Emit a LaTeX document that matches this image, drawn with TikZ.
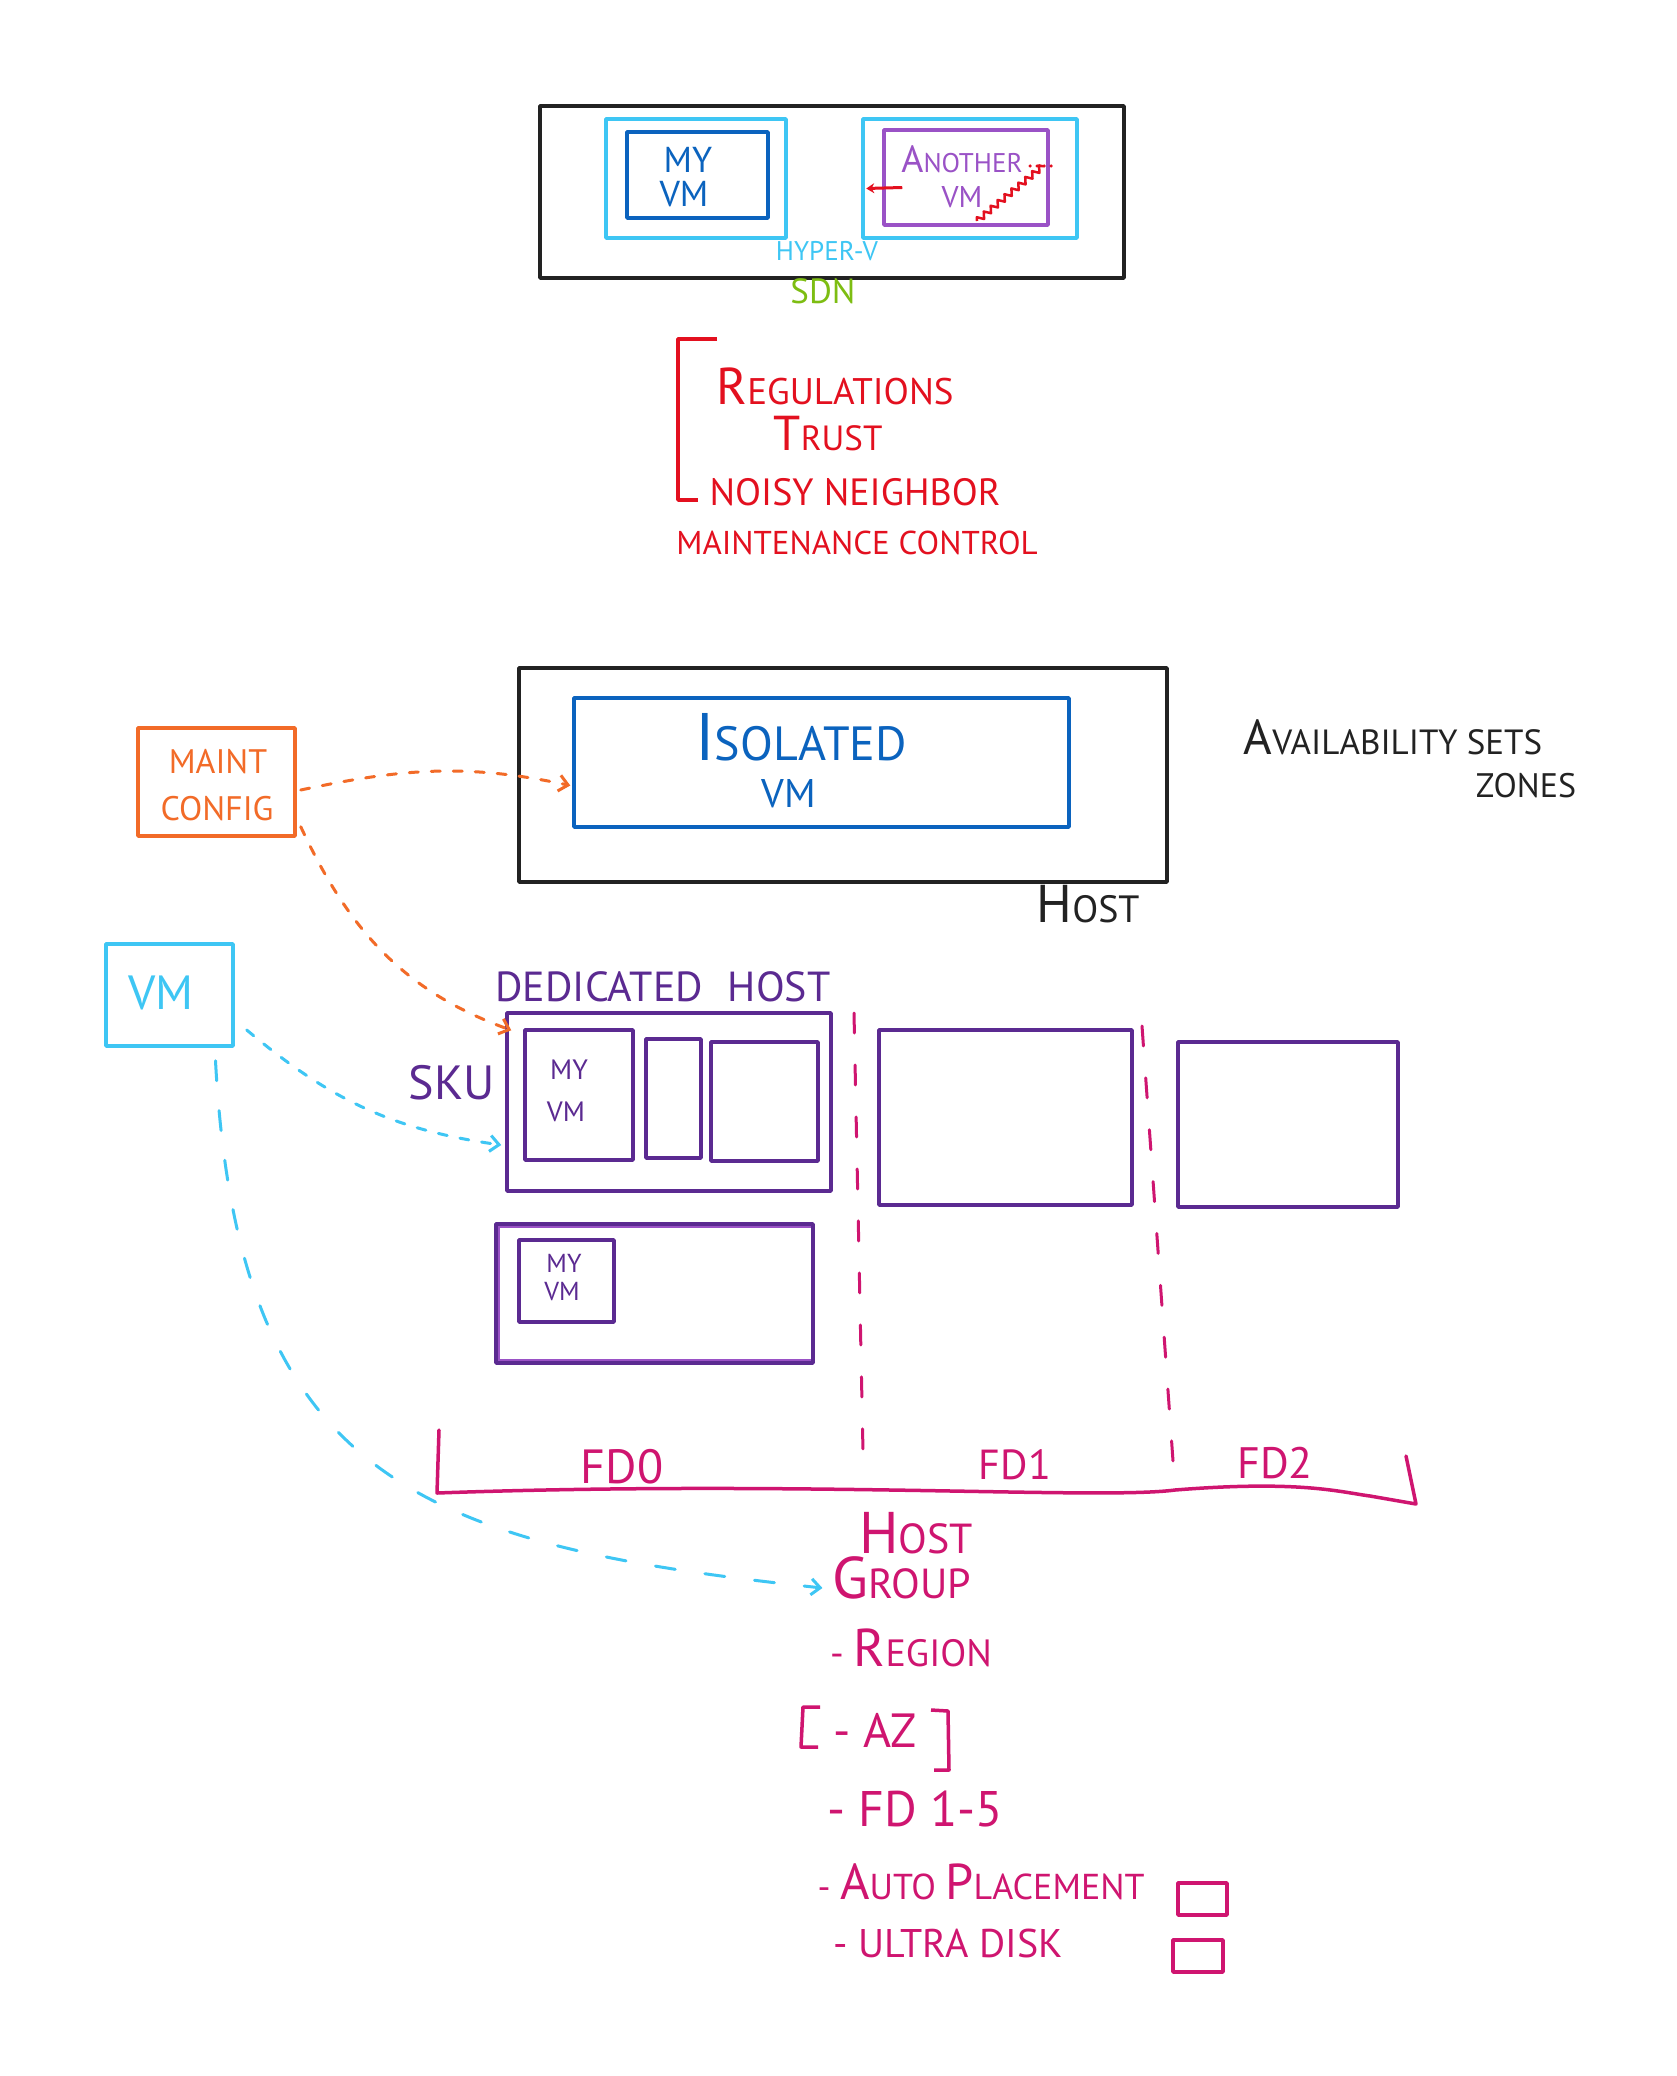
\documentclass[tikz,border=0pt]{standalone}
\usepackage{fontspec}
\usepackage{graphicx}
\setmainfont{PT Sans}
\usetikzlibrary{arrows.meta,decorations.pathmorphing}
\definecolor{ink}{HTML}{222222}
\definecolor{hvblue}{HTML}{3EC6F4}
\definecolor{vmblue}{HTML}{0B63BE}
\definecolor{anpurple}{HTML}{9A52C6}
\definecolor{dhpurple}{HTML}{5B2A91}
\definecolor{noisered}{HTML}{E3101F}
\definecolor{sdngreen}{HTML}{7DBD12}
\definecolor{maintorange}{HTML}{F26B28}
\definecolor{fdmagenta}{HTML}{CF1570}
\newcommand\fs[1]{\fontsize{#1}{#1}\selectfont}
\newcommand\ini[1]{\scalebox{1.4}{#1}}
\tikzset{
  box/.style={draw, rectangle, inner sep=0pt, line width=3.5pt, line join=round},
  txt/.style={inner sep=0pt, anchor=center},
  oarrow/.style={draw=maintorange, line width=3pt, line cap=round, dash pattern=on 9pt off 13pt, -{Straight Barb[length=9pt,width=16pt,line width=3pt]}},
  barrow/.style={draw=hvblue, line width=3pt, line cap=round, dash pattern=on 9pt off 13pt, -{Straight Barb[length=9pt,width=16pt,line width=3pt]}},
  fdline/.style={draw=fdmagenta, line width=3pt, line cap=round, dash pattern=on 20pt off 32pt},
}
\begin{document}
\begin{tikzpicture}[x=1pt,y=-1pt]
\useasboundingbox (0,0) rectangle (1677,2076);
\fill[white] (0,0) rectangle (1677,2076);

% ---------- top: SDN / Hyper-V ----------
\node[box, draw=ink, minimum width=584pt, minimum height=172pt] (sdnbox) at (832,192) {};
\node[box, draw=hvblue, minimum width=180pt, minimum height=119pt] (hv1) at (696,178.5) {};
\node[box, draw=vmblue, minimum width=141pt, minimum height=86pt] (myvm1) at (697.5,175) {};
\node[box, draw=hvblue, minimum width=214pt, minimum height=119pt] (hv2) at (970,178.5) {};
\node[box, draw=anpurple, minimum width=164pt, minimum height=95pt] (another) at (966,177.5) {};
\node[txt, text=vmblue, font=\fs{36}] (my1) at (688,160) {MY};
\node[txt, text=vmblue, font=\fs{36}] (vm1) at (684,194) {VM};
\node[txt, text=anpurple, font=\fs{27}] (an1) at (962,159) {\ini{A}NOTHER};
\node[txt, text=anpurple, font=\fs{30}] (an2) at (962,197) {VM};
\node[txt, text=hvblue, font=\fs{27}] (hyperv) at (827,251) {HYPER-V};
\node[txt, text=sdngreen, font=\fs{35}] (sdn) at (823,291) {SDN};
\draw[noisered, line width=3pt, -{Stealth[length=8pt,width=10pt]}] ([xshift=20pt,yshift=-10pt]another.west) -- ([xshift=5pt,yshift=-10pt]hv2.west);
\coordinate (zz1) at (977,221);
\coordinate (zz2) at (1043,166);
\draw[noisered, line width=2.5pt, line join=round, decorate, decoration={zigzag, segment length=9pt, amplitude=3pt}] (zz1) -- (zz2);
\coordinate (dt1) at (1030,166);
\coordinate (dt2) at (1058,166);
\draw[noisered, line width=3.5pt, line cap=round, dash pattern=on 0pt off 7pt] (dt1) -- (dt2);

% ---------- red list ----------
\coordinate (rb1) at (717,339);
\coordinate (rb2) at (678,339);
\coordinate (rb3) at (678,500);
\coordinate (rb4) at (698,500);
\draw[noisered, line width=3.5pt, line join=round] (rb1) -- (rb2) -- (rb3) -- (rb4);
\node[txt, text=noisered, font=\fs{37}] (reg) at (835,386) {\ini{R}EGULATIONS};
\node[txt, text=noisered, font=\fs{35}] (trust) at (828,434) {\ini{T}RUST};
\node[txt, text=noisered, font=\fs{38}] (noisy) at (855,492) {NOISY NEIGHBOR};
\node[txt, text=noisered, font=\fs{33}] (mctl) at (857,543) {MAINTENANCE CONTROL};

% ---------- isolated host ----------
\node[box, draw=ink, minimum width=648pt, minimum height=214pt] (hostbox) at (843,775) {};
\node[box, draw=vmblue, minimum width=495pt, minimum height=129pt] (isolated) at (821.5,762.5) {};
\node[txt, text=vmblue, font=\fs{48}] (isol) at (801,737) {\ini{I}SOLATED};
\node[txt, text=vmblue, font=\fs{40}] (ivm) at (789,794) {VM};
\node[txt, text=ink, font=\fs{38}] (hostlbl) at (1088,904) {\ini{H}OST};
\node[txt, text=ink, font=\fs{35}] (avail) at (1393,737) {\ini{A}VAILABILITY SETS};
\node[txt, text=ink, font=\fs{34}] (zones) at (1526,786) {ZONES};

% ---------- maint config ----------
\node[box, draw=maintorange, minimum width=157pt, minimum height=108pt] (maint) at (216.5,782) {};
\node[txt, text=maintorange, font=\fs{34}] (maintt) at (218,762) {MAINT};
\node[txt, text=maintorange, font=\fs{34}] (config) at (217,809) {CONFIG};

% ---------- VM ----------
\node[box, draw=hvblue, minimum width=127pt, minimum height=102pt] (vmbox) at (169.5,995) {};
\node[txt, text=hvblue, font=\fs{48}] (vmlbl) at (161,993) {VM};

% ---------- dedicated hosts ----------
\node[txt, text=dhpurple, font=\fs{42}] (dedic) at (663,987) {DEDICATED\hspace{25pt}HOST};
\node[txt, text=dhpurple, font=\fs{48}] (sku) at (452,1083) {SKU};
\node[box, draw=dhpurple, minimum width=324pt, minimum height=178pt] (dh) at (669,1102) {};
\node[box, draw=dhpurple, minimum width=108pt, minimum height=130pt] (dhvm) at (579,1095) {};
\node[box, draw=dhpurple, minimum width=55pt, minimum height=119pt] (narrow) at (673.5,1098.5) {};
\node[box, draw=dhpurple, minimum width=107pt, minimum height=119pt] (dhright) at (764.5,1101.5) {};
\node[txt, text=dhpurple, font=\fs{28}] (dhmy) at (569,1070) {MY};
\node[txt, text=dhpurple, font=\fs{28}] (dhvmt) at (566,1112) {VM};
\node[box, draw=dhpurple, minimum width=253pt, minimum height=175pt] (fd1box) at (1005.5,1117.5) {};
\node[box, draw=dhpurple, minimum width=220pt, minimum height=165pt] (fd2box) at (1288,1124.5) {};
\node[box, draw=anpurple, line width=3pt, minimum width=315pt, minimum height=134pt] (host2b) at (656,1293) {};
\node[box, draw=dhpurple, minimum width=317pt, minimum height=139pt] (host2) at (654.5,1293.5) {};
\node[box, draw=dhpurple, minimum width=95pt, minimum height=82pt] (host2vm) at (566.5,1281) {};
\node[txt, text=dhpurple, font=\fs{26}] (h2my) at (564,1263) {MY};
\node[txt, text=dhpurple, font=\fs{26}] (h2vm) at (562,1292) {VM};

% ---------- fault domains ----------
\coordinate (fa1) at (854,1013);
\coordinate (fa2) at (863,1452);
\coordinate (fb1) at (1142,1026);
\coordinate (fb2) at (1175,1489);
\draw[fdline] (fa1) -- (fa2);
\draw[fdline] (fb1) -- (fb2);
\coordinate (br1) at (439,1430);
\coordinate (br2) at (437,1493);
\coordinate (br3) at (1416,1504);
\coordinate (br4) at (1406,1456);
\draw[fdmagenta, line width=3.5pt, line join=round, line cap=round] (br1) -- (br2) .. controls (800,1480) and (1100,1500) .. (1175,1490) .. controls (1300,1480) and (1340,1492) .. (1370,1496) -- (br3) -- (br4);
\node[txt, text=fdmagenta, font=\fs{48}] (fd0) at (622,1467) {FD0};
\node[txt, text=fdmagenta, font=\fs{42}] (fd1) at (1015,1465) {FD1};
\node[txt, text=fdmagenta, font=\fs{44}] (fd2) at (1275,1463) {FD2};

% ---------- host group ----------
\node[txt, text=fdmagenta, font=\fs{42}] (hostg) at (916,1533) {\ini{H}OST};
\node[txt, text=fdmagenta, font=\fs{42}] (group) at (902,1578) {\ini{G}ROUP};
\node[txt, text=fdmagenta, font=\fs{38}] (region) at (911,1648) {- \ini{R}EGION};
\coordinate (lb1) at (820,1707);
\coordinate (lb2) at (803,1707);
\coordinate (lb3) at (801,1747);
\coordinate (lb4) at (818,1747);
\draw[fdmagenta, line width=3.5pt, line join=round] (lb1) -- (lb2) -- (lb3) -- (lb4);
\node[txt, text=fdmagenta, font=\fs{48}] (az) at (875,1730) {- AZ};
\coordinate (rbk1) at (931,1710);
\coordinate (rbk2) at (948,1711);
\coordinate (rbk3) at (949,1770);
\coordinate (rbk4) at (934,1770);
\draw[fdmagenta, line width=3.5pt, line join=round] (rbk1) -- (rbk2) -- (rbk3) -- (rbk4);
\node[txt, text=fdmagenta, font=\fs{50}] (fd15) at (915,1809) {- FD 1-5};
\node[txt, text=fdmagenta, font=\fs{36}] (auto) at (981,1882) {- \ini{A}UTO \ini{P}LACEMENT};
\node[txt, text=fdmagenta, font=\fs{40}] (ultra) at (948,1943) {- ULTRA DISK};
\node[box, draw=fdmagenta, minimum width=49pt, minimum height=32pt] (cb1) at (1202.5,1899) {};
\node[box, draw=fdmagenta, minimum width=50pt, minimum height=32pt] (cb2) at (1198,1956) {};

% ---------- connectors ----------
\draw[oarrow] ([xshift=4pt,yshift=-8pt]maint.east) to[out=12, in=168] ([xshift=-2pt,yshift=-23pt]isolated.west);
\draw[oarrow] ([xshift=4pt,yshift=11pt]maint.south east) to[out=-65, in=160] ([xshift=6pt,yshift=-19pt]dh.north west);
\draw[barrow] ([xshift=12pt,yshift=-35pt]vmbox.east) to[out=-40, in=172] ([xshift=-4pt,yshift=-43pt]dh.west);
\draw[barrow, dash pattern=on 20pt off 30pt] ([xshift=46pt,yshift=-13pt]vmbox.south) .. controls (238,1480) and (420,1545) .. ([xshift=-10pt,yshift=-10pt]group.west);
\end{tikzpicture}
\end{document}
